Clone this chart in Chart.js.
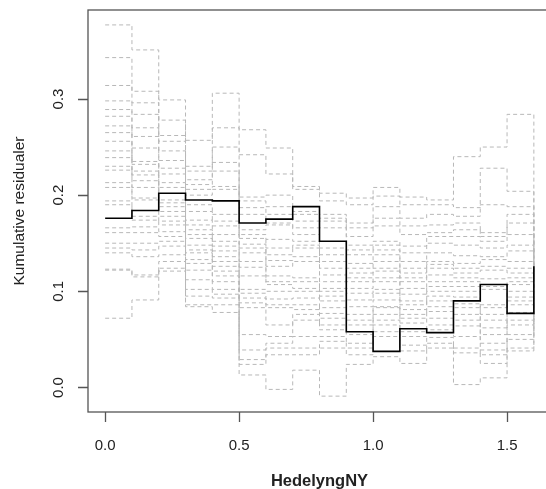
<!DOCTYPE html>
<html>
<head>
<meta charset="utf-8">
<title>Kumulative residualer</title>
<script src="https://cdn.jsdelivr.net/npm/chart.js@4.4.1/dist/chart.umd.min.js"></script>
<style>
  html, body { margin: 0; padding: 0; background: #fff; overflow: hidden; }
  canvas { display: block; }
</style>
</head>
<body>
<canvas id="resChart" width="560" height="489"></canvas>
<script>
// step breaks on HedelyngNY (x)
const breaks = [0, 0.1, 0.2, 0.3, 0.4, 0.5, 0.6, 0.7, 0.8, 0.9, 1.0, 1.1, 1.2, 1.3, 1.4, 1.5, 1.6];

// observed cumulative residual process (black), one value per step + final value
const observed = [0.176, 0.184, 0.202, 0.195, 0.194, 0.171, 0.175, 0.188, 0.152, 0.058,
                  0.0375, 0.061, 0.057, 0.090, 0.107, 0.077, 0.126];

// simulated processes (grey dashed): levels read per step, highest first
const simByStep = [
  [0.377,0.343,0.314,0.298,0.289,0.282,0.272,0.265,0.256,0.246,0.239,0.230,0.226,0.213,0.208,0.194,0.190,0.166,0.161,0.150,0.145,0.140,0.123,0.122,0.072],
  [0.351,0.308,0.296,0.284,0.270,0.261,0.249,0.235,0.232,0.225,0.221,0.215,0.208,0.197,0.195,0.178,0.174,0.167,0.161,0.150,0.143,0.136,0.117,0.115,0.091],
  [0.299,0.278,0.262,0.256,0.246,0.236,0.228,0.222,0.213,0.208,0.195,0.192,0.188,0.183,0.178,0.173,0.169,0.162,0.157,0.152,0.147,0.138,0.131,0.124,0.121],
  [0.257,0.230,0.225,0.216,0.211,0.206,0.200,0.190,0.183,0.174,0.169,0.164,0.159,0.155,0.148,0.143,0.140,0.133,0.129,0.122,0.112,0.102,0.095,0.086,0.084],
  [0.306,0.270,0.250,0.234,0.225,0.209,0.206,0.180,0.173,0.168,0.159,0.152,0.147,0.142,0.136,0.131,0.126,0.121,0.116,0.110,0.102,0.097,0.093,0.086,0.078],
  [0.268,0.242,0.198,0.194,0.187,0.180,0.164,0.159,0.155,0.149,0.145,0.140,0.131,0.125,0.116,0.102,0.098,0.093,0.088,0.083,0.055,0.039,0.029,0.024,0.013],
  [0.249,0.222,0.200,0.188,0.180,0.171,0.169,0.154,0.145,0.138,0.132,0.126,0.116,0.110,0.107,0.100,0.092,0.086,0.083,0.065,0.053,0.046,0.041,0.034,-0.002],
  [0.209,0.206,0.183,0.180,0.173,0.166,0.159,0.152,0.148,0.145,0.136,0.131,0.114,0.110,0.103,0.100,0.093,0.086,0.081,0.076,0.070,0.053,0.041,0.034,0.018],
  [0.202,0.194,0.180,0.176,0.173,0.166,0.145,0.138,0.131,0.124,0.117,0.110,0.103,0.100,0.095,0.090,0.083,0.077,0.072,0.065,0.060,0.053,0.048,0.041,-0.009],
  [0.197,0.190,0.171,0.166,0.157,0.148,0.143,0.138,0.129,0.124,0.119,0.114,0.110,0.103,0.098,0.091,0.084,0.076,0.070,0.065,0.055,0.046,0.041,0.034,0.024],
  [0.208,0.199,0.188,0.176,0.168,0.152,0.148,0.143,0.138,0.131,0.124,0.121,0.114,0.110,0.102,0.098,0.091,0.084,0.083,0.076,0.070,0.065,0.058,0.053,0.032],
  [0.198,0.190,0.176,0.168,0.159,0.147,0.140,0.131,0.124,0.119,0.114,0.110,0.103,0.097,0.090,0.086,0.081,0.076,0.072,0.067,0.058,0.053,0.044,0.038,0.025],
  [0.195,0.190,0.180,0.169,0.161,0.157,0.150,0.140,0.131,0.128,0.124,0.117,0.110,0.105,0.100,0.095,0.090,0.084,0.079,0.072,0.065,0.060,0.052,0.046,0.041],
  [0.240,0.187,0.178,0.171,0.164,0.157,0.148,0.137,0.129,0.124,0.119,0.114,0.110,0.105,0.100,0.094,0.087,0.083,0.076,0.070,0.064,0.053,0.041,0.036,0.003],
  [0.250,0.228,0.190,0.161,0.157,0.152,0.145,0.136,0.133,0.126,0.122,0.113,0.105,0.102,0.086,0.083,0.076,0.070,0.062,0.055,0.046,0.039,0.034,0.025,0.010],
  [0.284,0.204,0.188,0.180,0.171,0.159,0.148,0.142,0.131,0.124,0.119,0.114,0.110,0.107,0.100,0.094,0.090,0.086,0.078,0.070,0.065,0.055,0.050,0.041,0.038]
];
// final jump of each simulated process at x = 1.6
const simEnd = [0.130,0.150,0.120,0.140,0.110,0.125,0.135,0.115,0.105,0.145,0.100,0.128,0.118,0.090,0.122,0.112,0.095,0.132,0.108,0.085,0.102,0.098,0.092,0.088,0.080];

const xTicks = [0, 0.5, 1.0, 1.5];
const yTicks = [0, 0.1, 0.2, 0.3];
const xTitle = 'HedelyngNY';
const yTitle = 'Kumulative residualer';

function toPoints(values) {
  return breaks.map((x, i) => ({ x: x, y: values[i] }));
}

const datasets = [{
  data: toPoints(observed),
  borderColor: '#000000',
  borderWidth: 1.6,
  stepped: true,
  pointRadius: 0,
  fill: false
}];

for (let k = 0; k < simEnd.length; k++) {
  const vals = simByStep.map(row => row[k]);
  vals.push(simEnd[k]);
  datasets.push({
    data: toPoints(vals),
    borderColor: '#b8b8b8',
    borderWidth: 1,
    borderDash: [4, 3],
    stepped: true,
    pointRadius: 0,
    fill: false
  });
}

// R style axes drawn through the chart scales
const rAxes = {
  id: 'rAxes',
  afterDraw(chart) {
    const ctx = chart.ctx;
    const xs = chart.scales.x, ys = chart.scales.y;
    const a = chart.chartArea;
    ctx.save();
    ctx.strokeStyle = '#555';
    ctx.lineWidth = 1.3;
    ctx.strokeRect(a.left, a.top, a.right - a.left, a.bottom - a.top);

    ctx.fillStyle = '#222';
    ctx.font = '15px "Liberation Sans", Arial, sans-serif';
    ctx.textAlign = 'center';
    ctx.textBaseline = 'middle';

    ctx.beginPath();
    xTicks.forEach(v => {
      const px = Math.round(xs.getPixelForValue(v)) + 0.5;
      ctx.moveTo(px, a.bottom);
      ctx.lineTo(px, a.bottom + 10);
    });
    yTicks.forEach(v => {
      const py = Math.round(ys.getPixelForValue(v)) + 0.5;
      ctx.moveTo(a.left, py);
      ctx.lineTo(a.left - 10, py);
    });
    ctx.stroke();

    xTicks.forEach(v => {
      ctx.fillText(v.toFixed(1), xs.getPixelForValue(v), a.bottom + 34);
    });
    yTicks.forEach(v => {
      ctx.save();
      ctx.translate(a.left - 29, ys.getPixelForValue(v));
      ctx.rotate(-Math.PI / 2);
      ctx.fillText(v.toFixed(1), 0, 0);
      ctx.restore();
    });

    ctx.font = 'bold 16.5px "Liberation Sans", Arial, sans-serif';
    ctx.fillText(xTitle, (a.left + a.right) / 2, a.bottom + 69);

    ctx.font = '15.5px "Liberation Sans", Arial, sans-serif';
    ctx.save();
    ctx.translate(20, (a.top + a.bottom) / 2);
    ctx.rotate(-Math.PI / 2);
    ctx.fillText(yTitle, 0, 0);
    ctx.restore();
    ctx.restore();
  }
};

new Chart(document.getElementById('resChart'), {
  type: 'line',
  data: { datasets: datasets },
  options: {
    responsive: false,
    devicePixelRatio: 1,
    animation: false,
    layout: { padding: { left: 88, top: 10, right: 9, bottom: 77 } },
    plugins: { legend: { display: false }, tooltip: { enabled: false } },
    scales: {
      x: { type: 'linear', min: -0.064, max: 1.664, display: false },
      y: { type: 'linear', min: -0.0255, max: 0.3925, display: false }
    }
  },
  plugins: [rAxes]
});
</script>
</body>
</html>
